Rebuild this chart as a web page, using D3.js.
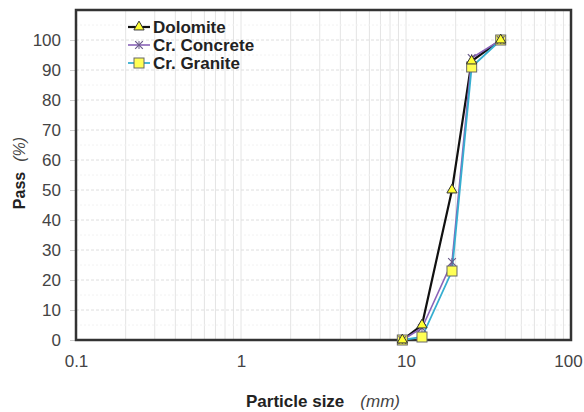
<!DOCTYPE html>
<html>
<head>
<meta charset="utf-8">
<script src="https://cdn.jsdelivr.net/npm/d3@7"></script>
<style>
  body { margin: 0; background: #fff; }
  text { font-family: "Liberation Sans", Arial, sans-serif; }
</style>
</head>
<body>
<svg id="chart" width="584" height="412"></svg>
<script>
// sieve sizes (mm) and % passing
const sizes = [9.5, 12.5, 19, 25, 37.5];
const dolomite = [0, 5, 50, 93, 100];
const crConcrete = [0, 4, 26, 94, 100];
const crGranite = [0, 1, 23, 91, 100];
const seriesNames = ['Dolomite', 'Cr. Concrete', 'Cr. Granite'];
const xTicks = [0.1, 1, 10, 100];
const yTicks = [0, 10, 20, 30, 40, 50, 60, 70, 80, 90, 100];

const svg = d3.select('#chart');
const pLeft = 76, pRight = 571, pTop = 10, pBottom = 340;

const x = d3.scaleLog().domain([0.1, 100]).range([pLeft, pRight]);
const y = d3.scaleLinear().domain([0, 110]).range([pBottom, pTop]);

// minor grid on x (2..9 per decade)
let minor = [];
for (let d = 0.1; d < 100; d *= 10) {
  for (let k = 2; k <= 9; k += 1) minor.push(d * k);
}
svg.append('g').selectAll('line').data(minor.concat([1, 10])).enter().append('line')
  .attr('x1', (d) => x(d)).attr('x2', (d) => x(d))
  .attr('y1', pTop).attr('y2', pBottom)
  .attr('stroke', '#e4e4e4').attr('stroke-width', 1);

// y grid
svg.append('g').selectAll('line').data(d3.range(5, 110, 10)).enter().append('line')
  .attr('x1', pLeft).attr('x2', pRight)
  .attr('y1', (d) => y(d)).attr('y2', (d) => y(d))
  .attr('stroke', '#f2f2f2').attr('stroke-dasharray', '2,2');
svg.append('g').selectAll('line').data(yTicks.slice(1).concat([110])).enter().append('line')
  .attr('x1', pLeft).attr('x2', pRight)
  .attr('y1', (d) => y(d)).attr('y2', (d) => y(d))
  .attr('stroke', '#dedede').attr('stroke-dasharray', '3,2');

// axes
const yAxis = svg.append('g').attr('transform', `translate(${pLeft},0)`)
  .call(d3.axisLeft(y).tickValues(yTicks).tickSize(6).tickPadding(9));
const xAxis = svg.append('g').attr('transform', `translate(0,${pBottom})`)
  .call(d3.axisBottom(x).tickValues(xTicks).tickFormat((d) => d3.format('~g')(d)).tickSize(0).tickPadding(15));
[yAxis, xAxis].forEach((g) => {
  g.select('.domain').remove();
  g.selectAll('.tick line').attr('stroke', '#ccc');
  g.selectAll('.tick text').attr('font-size', 17).attr('fill', '#444')
    .style('font-family', '"Liberation Sans", Arial, sans-serif');
});
// keep the last label inside the window
xAxis.selectAll('.tick text').filter((d) => d === 100).attr('dx', -3);

// frame
svg.append('rect').attr('x', pLeft).attr('y', pTop)
  .attr('width', pRight - pLeft).attr('height', pBottom - pTop)
  .attr('fill', 'none').attr('stroke', '#333').attr('stroke-width', 2.5);

const series = [
  {name: seriesNames[0], vals: dolomite, color: '#111', width: 2.2, marker: 'tri'},
  {name: seriesNames[1], vals: crConcrete, color: '#8a63b8', width: 1.6, marker: 'star'},
  {name: seriesNames[2], vals: crGranite, color: '#36aed0', width: 1.8, marker: 'sq'}
];

const line = d3.line().x((d) => x(d[0])).y((d) => y(d[1]));

function drawMarker(g, type, cx, cy) {
  if (type === 'tri') {
    g.append('path').attr('d', d3.symbol(d3.symbolTriangle, 45)())
      .attr('transform', `translate(${cx},${cy})`)
      .attr('fill', '#ffff33').attr('stroke', '#333').attr('stroke-width', 1);
  } else if (type === 'star') {
    g.append('path').attr('d', d3.symbol(d3.symbolTimes, 40)())
      .attr('transform', `translate(${cx},${cy})`)
      .attr('fill', 'none').attr('stroke', '#6a5a8a').attr('stroke-width', 1.2);
    g.append('line').attr('x1', cx).attr('x2', cx).attr('y1', cy - 4).attr('y2', cy + 4)
      .attr('stroke', '#6a5a8a').attr('stroke-width', 1);
  } else {
    g.append('rect').attr('x', cx - 5).attr('y', cy - 5).attr('width', 10).attr('height', 10)
      .attr('fill', '#ffff55').attr('stroke', '#666').attr('stroke-width', 1);
  }
}

series.forEach((s) => {
  const pts = sizes.map((d, i) => [d, s.vals[i]]);
  svg.append('path').datum(pts).attr('d', line)
    .attr('fill', 'none').attr('stroke', s.color).attr('stroke-width', s.width);
});
series.slice().reverse().forEach((s) => {
  const g = svg.append('g');
  sizes.forEach((d, i) => drawMarker(g, s.marker, x(d), y(s.vals[i])));
});

// legend
series.forEach((s, i) => {
  const ly = 27 + i * 18;
  const g = svg.append('g');
  g.append('line').attr('x1', 128).attr('x2', 150).attr('y1', ly).attr('y2', ly)
    .attr('stroke', s.color).attr('stroke-width', s.width);
  drawMarker(g, s.marker, 139, ly);
  g.append('text').attr('x', 153).attr('y', ly + 6).attr('font-size', 17)
    .attr('font-weight', 'bold').attr('fill', '#222').text(s.name);
});

// axis titles
const yt = svg.append('text').attr('transform', 'translate(25,173) rotate(-90)')
  .attr('text-anchor', 'middle').attr('font-size', 16).attr('fill', '#222');
yt.append('tspan').attr('font-weight', 'bold').text('Pass');
yt.append('tspan').attr('font-style', 'italic').attr('fill', '#444').attr('dx', 10).text('(%)');

const xt = svg.append('text').attr('x', 323).attr('y', 407)
  .attr('text-anchor', 'middle').attr('font-size', 17).attr('fill', '#222');
xt.append('tspan').attr('font-weight', 'bold').text('Particle size');
xt.append('tspan').attr('font-style', 'italic').attr('fill', '#444').attr('dx', 16).text('(mm)');
</script>
</body>
</html>
